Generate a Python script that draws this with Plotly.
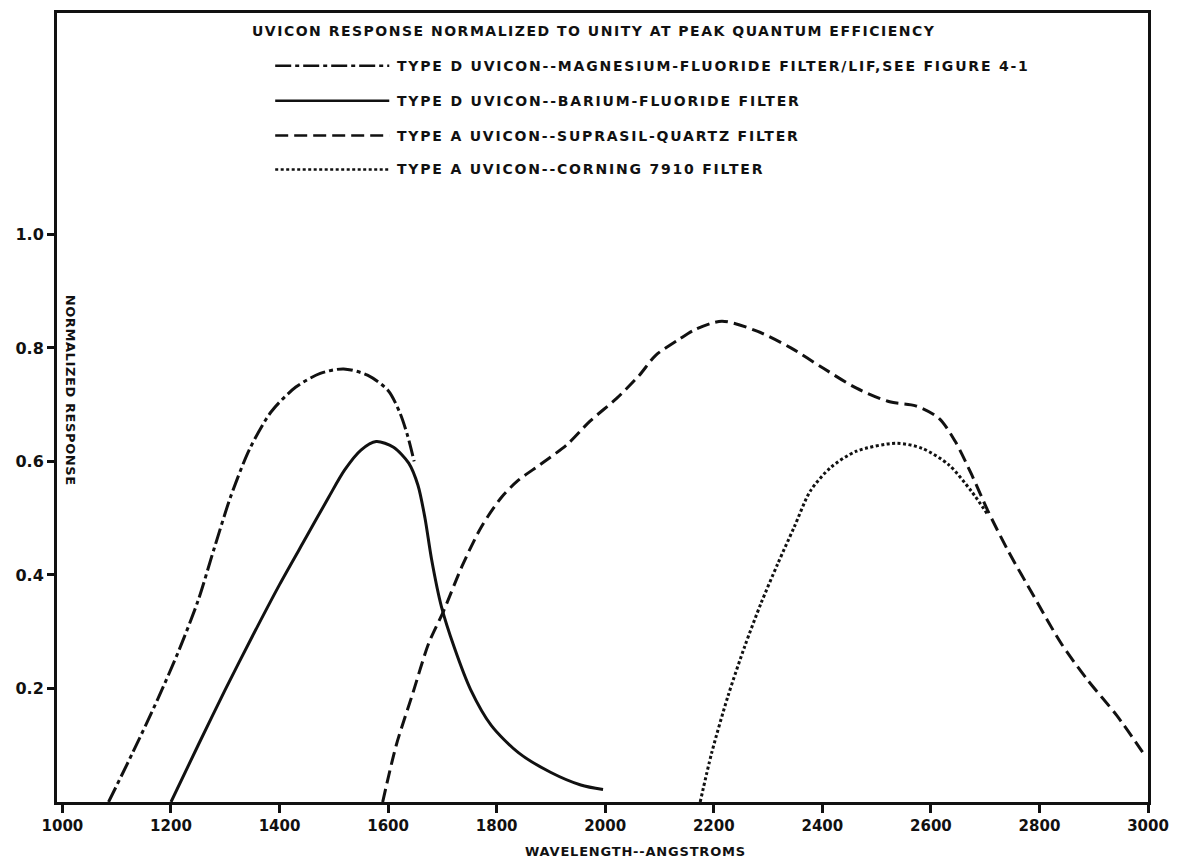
import plotly.graph_objects as go

# ---------------- data ----------------
mgf_wl = [1085, 1130, 1175, 1215, 1250, 1280, 1310, 1345, 1385, 1430, 1475, 1518, 1562, 1600, 1622, 1636, 1648]
mgf_resp = [0.0, 0.088, 0.18, 0.268, 0.355, 0.448, 0.538, 0.622, 0.688, 0.731, 0.755, 0.763, 0.752, 0.725, 0.685, 0.645, 0.60]

baf_wl = [1200, 1250, 1300, 1350, 1400, 1450, 1490, 1520, 1550, 1578, 1610, 1638, 1655, 1668, 1680,
          1698, 1722, 1752, 1790, 1840, 1900, 1955, 1996]
baf_resp = [0.0, 0.10, 0.198, 0.292, 0.383, 0.468, 0.536, 0.585, 0.620, 0.635, 0.625, 0.597, 0.558, 0.50, 0.428,
            0.345, 0.272, 0.198, 0.135, 0.087, 0.052, 0.030, 0.022]

sup_wl = [1590, 1615, 1645, 1675, 1702, 1736, 1772, 1809, 1839, 1881, 1930, 1972, 2021, 2063, 2093, 2136,
          2165, 2215, 2281, 2342, 2402, 2463, 2524, 2572, 2615, 2645, 2675, 2705, 2742, 2790, 2839, 2887,
          2942, 2990]
sup_resp = [0.0, 0.10, 0.19, 0.28, 0.336, 0.415, 0.485, 0.537, 0.566, 0.595, 0.63, 0.671, 0.711, 0.752, 0.787,
            0.815, 0.832, 0.847, 0.829, 0.80, 0.764, 0.729, 0.705, 0.698, 0.676, 0.635, 0.577, 0.513, 0.443,
            0.362, 0.281, 0.217, 0.153, 0.088]

cor_wl = [2175, 2196, 2226, 2257, 2287, 2318, 2348, 2378, 2415, 2463, 2536, 2584, 2633, 2675, 2705]
cor_resp = [0.0, 0.086, 0.186, 0.274, 0.35, 0.42, 0.484, 0.548, 0.589, 0.618, 0.632, 0.623, 0.594, 0.547, 0.506]

series_names = [
    "TYPE D UVICON--MAGNESIUM-FLUORIDE FILTER/LIF,SEE FIGURE 4-1",
    "TYPE D UVICON--BARIUM-FLUORIDE FILTER",
    "TYPE A UVICON--SUPRASIL-QUARTZ FILTER",
    "TYPE A UVICON--CORNING 7910 FILTER",
]
legend_title = "UVICON RESPONSE NORMALIZED TO UNITY AT PEAK QUANTUM EFFICIENCY"
x_title = "WAVELENGTH--ANGSTROMS"
y_title = "NORMALIZED RESPONSE"
x_ticks = [1000, 1200, 1400, 1600, 1800, 2000, 2200, 2400, 2600, 2800, 3000]
y_ticks = [0.2, 0.4, 0.6, 0.8, 1.0]
y_tick_text = ["0.2", "0.4", "0.6", "0.8", "1.0"]

# ---------------- styling ----------------
FONT = "DejaVu Sans"
INK = "#111111"
dashes = ["16px,4px,4px,4px", "solid", "13px,6px", "3px,2.5px"]
W, H = 1179, 864
L, R, T, B = 57, 22, 10, 62
pw, ph = W - L - R, H - T - B


def spaced(txt, ls):
    return '<span style="letter-spacing:%spx">%s</span>' % (ls, txt)


fig = go.Figure()
for xs, ys, name, dash in zip([mgf_wl, baf_wl, sup_wl, cor_wl],
                              [mgf_resp, baf_resp, sup_resp, cor_resp],
                              series_names, dashes):
    fig.add_trace(go.Scatter(
        x=xs, y=ys, name=name, mode="lines",
        line=dict(color=INK, width=3, dash=dash, shape="spline", smoothing=0.8),
        showlegend=False, hoverinfo="skip"))


def px2paper(px, py):
    return (px - L) / pw, (H - B - py) / ph


annotations = []
shapes = []
tx, ty = px2paper(252, 28)
annotations.append(dict(x=tx, y=ty, xref="paper", yref="paper", xanchor="left", yanchor="middle",
                        text=spaced(legend_title, 1.5), showarrow=False,
                        font=dict(family=FONT, size=14, color=INK, weight="bold")))
row_y = [63, 98, 133, 167]
for name, dash, ry in zip(series_names, dashes, row_y):
    x0, yy = px2paper(277, ry)
    x1, _ = px2paper(392, ry)
    shapes.append(dict(type="line", xref="paper", yref="paper", x0=x0, x1=x1, y0=yy, y1=yy,
                       line=dict(color=INK, width=2.5, dash=dash)))
    lx, _ = px2paper(398, ry)
    annotations.append(dict(x=lx, y=yy, xref="paper", yref="paper", xanchor="left", yanchor="middle",
                            text=spaced(name, 1.8), showarrow=False,
                            font=dict(family=FONT, size=14, color=INK, weight="bold")))

# axis titles
yx, yy = px2paper(71, 389)
annotations.append(dict(x=yx, y=yy, xref="paper", yref="paper", xanchor="center", yanchor="middle",
                        text=spaced(y_title, 0.6), textangle=90, showarrow=False,
                        font=dict(family=FONT, size=13, color=INK, weight="bold")))
annotations.append(dict(x=0.53, y=-0.063, xref="paper", yref="paper", xanchor="center", yanchor="middle",
                        text=spaced(x_title, 0.8), showarrow=False,
                        font=dict(family=FONT, size=13, color=INK, weight="bold")))

fig.update_layout(
    width=W, height=H,
    margin=dict(l=L, r=R, t=T, b=B, pad=0),
    paper_bgcolor="white", plot_bgcolor="white",
    font=dict(family=FONT, color=INK),
    annotations=annotations, shapes=shapes,
    xaxis=dict(range=[990, 3000], tickmode="array", tickvals=x_ticks,
               ticktext=[str(v) for v in x_ticks],
               showgrid=False, zeroline=False, showline=True, linecolor=INK, linewidth=3,
               mirror=True, ticks="outside", ticklen=8, tickwidth=2.5, tickcolor=INK,
               tickfont=dict(family=FONT, size=15, color=INK, weight="bold")),
    yaxis=dict(range=[0, 1.39], tickmode="array", tickvals=y_ticks, ticktext=y_tick_text,
               showgrid=False, zeroline=False, showline=True, linecolor=INK, linewidth=3,
               mirror=True, ticks="outside", ticklen=7, tickwidth=2.5, tickcolor=INK,
               tickfont=dict(family=FONT, size=16, color=INK, weight="bold")),
)

fig.write_html("out.html", config={"displayModeBar": False},
               post_script="document.body.style.margin='0';")
